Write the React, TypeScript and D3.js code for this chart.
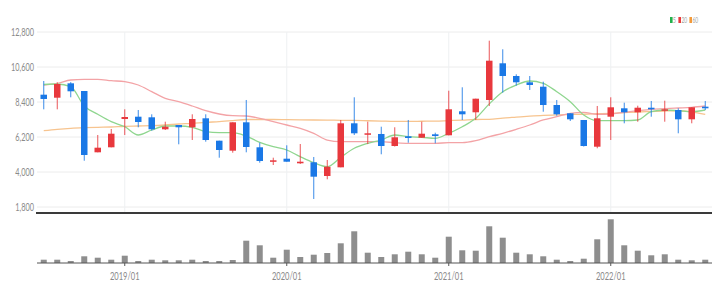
import React from "react";
import * as d3 from "d3";

const months = [
  "2018/07","2018/08","2018/09","2018/10","2018/11","2018/12",
  "2019/01","2019/02","2019/03","2019/04","2019/05","2019/06","2019/07","2019/08","2019/09","2019/10","2019/11","2019/12",
  "2020/01","2020/02","2020/03","2020/04","2020/05","2020/06","2020/07","2020/08","2020/09","2020/10","2020/11","2020/12",
  "2021/01","2021/02","2021/03","2021/04","2021/05","2021/06","2021/07","2021/08","2021/09","2021/10","2021/11","2021/12",
  "2022/01","2022/02","2022/03","2022/04","2022/05","2022/06","2022/07","2022/08",
];
const openV = [8860,8670,9575,9091,5238,5553,7331,7476,7438,6684,6954,6810,7375,5968,5339,7124,5553,4647,4836,4547,4610,3749,4295,7061,6370,6389,5634,6244,6156,6370,6307,7816,7753,8526,10833,10034,9638,9362,8211,7690,7269,5590,7476,8004,7753,8041,7878,7897,7312,8106];
const closeV = [8590,9531,9073,5069,5528,6408,7457,7143,6684,6847,6810,7331,6011,5383,7124,5572,4691,4735,4647,4647,3705,4333,7061,6433,6433,5634,6181,6137,6408,6263,7941,7627,8608,10996,10034,9638,9469,8211,7627,7312,5634,7375,8067,7753,8041,7941,7941,7312,8067,8004];
const highV = [9720,9638,9650,9091,6326,6703,7941,7897,7627,7162,6954,7627,7627,5968,7124,8526,5842,4899,5678,5760,4943,4754,7269,8695,7162,6847,6810,7269,7162,6470,9110,9324,8608,12253,11713,10141,10034,9676,8526,7690,7269,8149,8695,8356,8167,8463,8482,8004,8067,8463];
const lowV = [7940,7940,8695,4710,5238,5550,6326,6810,6596,6640,5741,6011,5905,4899,5213,5238,4585,4440,4647,4503,2303,3541,4295,6326,5760,5113,5600,5842,6156,5804,6307,7269,7269,8149,8985,9425,9154,7790,7539,7206,5600,5490,6011,7061,7162,7476,7162,6433,7061,7897];
const ma5 = [9500,9531,9362,8149,7627,7162,6847,6326,6640,6891,6891,6810,6533,6470,6470,6250,5867,5590,5383,4962,4585,4333,4924,5490,5804,6011,6326,6219,6181,6118,6433,6847,7375,8280,9048,9469,9720,9575,9048,8419,7583,7225,7225,7225,7269,7790,7897,7853,7790,7897];
const ma20 = [9469,9575,9783,9827,9827,9740,9676,9469,9048,8633,8419,8149,7853,7646,7539,7520,7375,7162,6954,6747,6433,6011,5905,5905,5905,5905,5842,5804,5804,5804,5842,5842,5968,6219,6433,6684,6954,7269,7476,7690,7753,7627,7646,7753,7853,7941,7980,8023,8067,8149];
const ma60 = [6596,6684,6747,6785,6810,6829,6872,6891,6910,6954,7017,7061,7124,7162,7225,7300,7300,7300,7290,7280,7270,7260,7250,7240,7220,7200,7180,7180,7190,7200,7230,7260,7300,7310,7390,7450,7510,7560,7590,7610,7630,7660,7690,7730,7770,7800,7830,7850,7780,7620];
const volume = [33,33,20,67,53,33,73,20,33,27,27,33,20,20,30,223,177,53,133,60,83,100,197,317,103,60,87,113,87,53,263,127,123,367,253,103,87,67,33,20,43,237,437,177,123,77,87,33,27,33];
const priceTicks = [1800,4000,6200,8400,10600,12800];
const xLabels = ["2019/01","2020/01","2021/01","2022/01"];
const legendItems = [
  { label: "5", color: "#22b14c" },
  { label: "20", color: "#e8383d" },
  { label: "60", color: "#f39a3a" },
];

const UP = "#e8383d";
const DOWN = "#1a78e6";
const FONT = "Lato, 'Open Sans', sans-serif";

export default function App() {
  const W = 726, H = 285;
  const x = d3.scaleBand<string>().domain(months).range([37, 712]).padding(0);
  const bw = x.bandwidth();
  const cx = (m: string) => (x(m) as number) + bw / 2;
  const y = d3.scaleLinear().domain([1800, 12800]).range([207, 32]);
  const yv = d3.scaleLinear().domain([0, 450]).range([263, 218]);
  const candleW = 6.5;
  const volW = 6;

  const lineGen = (arr: number[]) =>
    d3.line<number>().x((_, i) => cx(months[i])).y((d) => y(d)).curve(d3.curveMonotoneX)(arr) || "";

  let lx = 670;
  const legend = legendItems.map((it) => {
    const tw = it.label.length * 2.6;
    const g = (
      <g key={"lg" + it.label}>
        <rect x={lx} y={17} width={2.6} height={6} fill={it.color} />
        <text transform={`translate(${lx + 3},23.2) scale(0.62,1)`} fontSize={8} fill="#a0a0a0" fontFamily={FONT}>{it.label}</text>
      </g>
    );
    lx += 2.6 + 0.6 + tw + 2.6;
    return g;
  });

  return (
    <svg width={W} height={H} style={{ position: "absolute", left: 0, top: 0, background: "#fff" }}>
      {priceTicks.map((t) => (
        <line key={"g" + t} x1={37} x2={712} y1={y(t)} y2={y(t)} stroke="#ececec" strokeWidth={1} />
      ))}
      {xLabels.map((m) => (
        <line key={"v" + m} x1={cx(m)} x2={cx(m)} y1={32} y2={212} stroke="#eef0f2" strokeWidth={1} />
      ))}
      {priceTicks.map((t) => (
        <text key={"t" + t} transform={`translate(34,${y(t) + 3.5}) scale(0.7,1)`} textAnchor="end"
          fontSize={10.5} fill="#8a8a8a" fontFamily={FONT}>
          {d3.format(",")(t)}
        </text>
      ))}
      <path d={lineGen(ma60)} fill="none" stroke="#f7c48f" strokeWidth={1.3} />
      <path d={lineGen(ma20)} fill="none" stroke="#f3a3a6" strokeWidth={1.3} />
      <path d={lineGen(ma5)} fill="none" stroke="#8fd68f" strokeWidth={1.3} />
      {months.map((m, i) => {
        const up = closeV[i] >= openV[i];
        const c = up ? UP : DOWN;
        const top = y(Math.max(openV[i], closeV[i]));
        const bot = y(Math.min(openV[i], closeV[i]));
        return (
          <g key={"c" + m}>
            <line x1={cx(m)} x2={cx(m)} y1={y(highV[i])} y2={y(lowV[i])} stroke={c} strokeWidth={1} opacity={0.85} />
            <rect x={cx(m) - candleW / 2} y={top} width={candleW} height={Math.max(1.5, bot - top)} fill={c} />
          </g>
        );
      })}
      <line x1={36} x2={712} y1={213} y2={213} stroke="#3a3a3a" strokeWidth={2} />
      {months.map((m, i) => (
        <rect key={"vb" + m} x={cx(m) - volW / 2} y={yv(volume[i])} width={volW} height={yv(0) - yv(volume[i])} fill="#8e8e8e" />
      ))}
      <line x1={37} x2={712} y1={263} y2={263} stroke="#555" strokeWidth={1} />
      {xLabels.map((m) => (
        <g key={"xl" + m}>
          <line x1={cx(m)} x2={cx(m)} y1={263} y2={266} stroke="#555" strokeWidth={1} />
          <text transform={`translate(${cx(m)},280) scale(0.72,1)`} textAnchor="middle" fontSize={10.5}
            fill="#8a8a8a" fontFamily={FONT}>{m}</text>
        </g>
      ))}
      {legend}
    </svg>
  );
}
